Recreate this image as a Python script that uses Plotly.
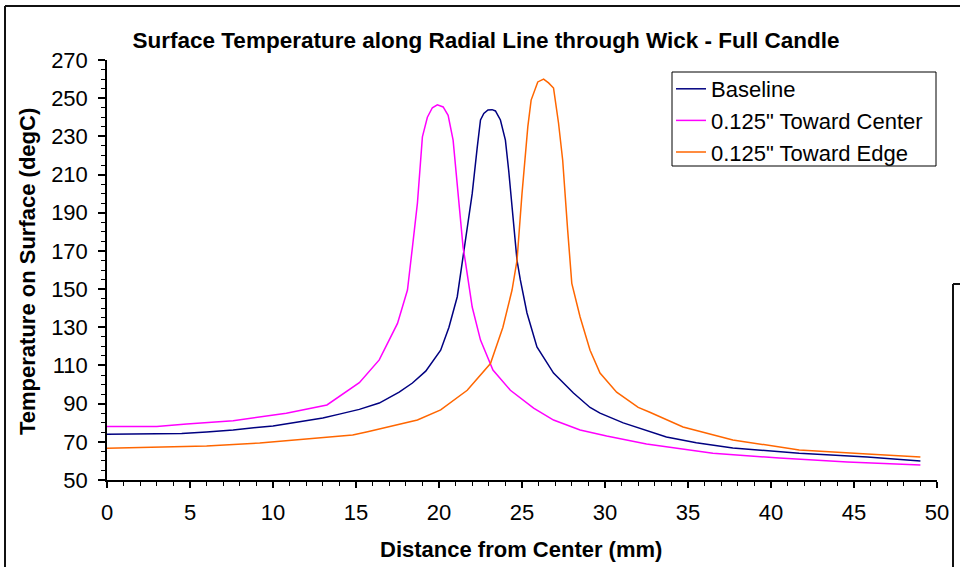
import plotly.graph_objects as go

# ---- data ----
baseline_x = [0, 2, 4.5, 6, 7.6, 9, 10, 11.6, 13, 14, 15.2, 16.4, 17.6, 18.4, 19.2, 20.1, 20.6,
              21.1, 21.4, 21.7, 22.0, 22.3, 22.5, 22.7, 22.95, 23.2, 23.4, 23.7, 24.0, 24.2, 24.5,
              24.7, 24.9, 25.3, 25.9, 26.9, 28.1, 29.1, 29.7, 31.1, 33.7, 35.5, 37.7, 41.7, 45.8, 49.0]
baseline_t = [74, 74, 74.3, 75.2, 76.2, 77.5, 78.3, 80.5, 82.5, 84.5, 87, 90.3, 96, 100.8, 107, 118, 130,
              146, 164, 181, 200, 224, 238.6, 242, 243.8, 244, 243.3, 238.6, 228, 212, 182.5,
              165, 154.8, 137.5, 119.7, 106, 95.6, 88, 85, 79.9, 72.5, 69.5, 66.8, 64, 62, 60]

center_x = [0, 3, 4.8, 7.6, 10.8, 13.25, 15.2, 16.4, 17.5, 18.1, 18.4, 18.7, 19.0, 19.3, 19.6, 19.9,
            20.25, 20.55, 20.85, 21.0, 21.15, 21.45, 21.6, 22.0, 22.5, 23.25, 24.3, 25.7, 26.9, 28.5,
            30.1, 32.5, 36.5, 40.5, 44.6, 49.0]
center_t = [78, 78, 79.3, 81, 85, 89.3, 101, 112.9, 132, 149.5, 172, 195, 229.7, 240, 245, 246.5,
            245.4, 241, 228, 214, 196.7, 172, 163.7, 140.6, 123.3, 107.6, 97, 87.7, 81.4, 76.2,
            73, 68.9, 64, 61.5, 59.4, 57.9]

edge_x = [0, 2.2, 6.0, 9.2, 12.6, 14.8, 15.7, 17.65, 18.7, 20.1, 21.7, 23.1, 23.85, 24.4, 24.7, 25.0,
          25.35, 25.55, 25.95, 26.3, 26.6, 26.9, 27.0, 27.2, 27.45, 27.6, 27.75, 28.0, 28.5, 29.1,
          29.7, 30.7, 31.1, 32.0, 32.7, 34.7, 37.7, 41.7, 45.8, 49.0]
edge_t = [66.6, 67, 67.8, 69.4, 72, 73.6, 75.3, 79.3, 81.4, 86.7, 97, 111, 130, 149.5, 165, 200,
          235, 249, 258.5, 260, 258, 255.3, 249, 237, 217.6, 196.7, 181, 153, 135.4, 118,
          106, 96, 93.5, 88, 85.5, 77.8, 71, 65.7, 63.6, 62]

series_names = ["Baseline", "0.125\" Toward Center", "0.125\" Toward Edge"]
series_colors = ["#000080", "#FF00FF", "#FF6600"]

title_text = "Surface Temperature along Radial Line through Wick - Full Candle"
x_title = "Distance from Center (mm)"
y_title = "Temperature on Surface (degC)"

FONT = "Liberation Sans, Arial, sans-serif"
FS = 22

fig = go.Figure()
for xs, ys, name, col in zip([baseline_x, center_x, edge_x], [baseline_t, center_t, edge_t],
                             series_names, series_colors):
    fig.add_trace(go.Scatter(x=xs, y=ys, mode="lines", name=name,
                             line=dict(color=col, width=1.5)))

W, H = 960, 567
L, R, T, B = 107, 23, 60, 87
pw, ph = W - L - R, H - T - B

def px(xp):
    return (xp - L) / pw

def py(yp):
    return (H - B - yp) / ph

fig.update_layout(
    width=W, height=H,
    margin=dict(l=L, r=R, t=T, b=B, pad=0),
    paper_bgcolor="white", plot_bgcolor="white",
    font=dict(family=FONT, color="black", size=FS),
    title=dict(text="<b>" + title_text + "</b>", x=486 / W, xanchor="center",
               y=1 - 40 / H, yanchor="middle", yref="container",
               font=dict(family=FONT, size=22.5, color="black")),
    showlegend=True,
    legend=dict(x=px(671), y=py(68), xanchor="left", yanchor="top",
                borderwidth=0, bgcolor="rgba(0,0,0,0)",
                font=dict(family=FONT, size=FS, color="black"),
                itemwidth=30, tracegroupgap=0),
)

fig.update_xaxes(range=[0, 50], dtick=5, tick0=0, showgrid=False, zeroline=False,
                 showline=True, linecolor="black", linewidth=1.5,
                 ticks="outside", ticklen=6, tickwidth=1.5, tickcolor="black",
                 ticklabelstandoff=6,
                 tickfont=dict(family=FONT, size=FS, color="black"),
                 minor=dict(dtick=1, tick0=0, ticks="outside", ticklen=4, tickwidth=1,
                            tickcolor="black", showgrid=False))
fig.update_yaxes(range=[50, 270], dtick=20, tick0=50, showgrid=False, zeroline=False,
                 showline=True, linecolor="black", linewidth=1.5,
                 ticks="outside", ticklen=7, tickwidth=1.5, tickcolor="black",
                 ticklabelstandoff=6,
                 tickfont=dict(family=FONT, size=FS, color="black"),
                 minor=dict(dtick=5, tick0=50, ticks="outside", ticklen=4, tickwidth=1,
                            tickcolor="black", showgrid=False))

fig.add_annotation(text="<b>" + x_title + "</b>", xref="paper", yref="paper",
                   x=px(521), y=py(549), xanchor="center", yanchor="middle",
                   showarrow=False, font=dict(family=FONT, size=FS, color="black"))
fig.add_annotation(text="<b>" + y_title + "</b>", xref="paper", yref="paper",
                   x=px(27), y=py(272), xanchor="center", yanchor="middle",
                   textangle=-90, showarrow=False,
                   font=dict(family=FONT, size=FS, color="black"))

# legend frame
fig.add_shape(type="rect", xref="paper", yref="paper", x0=px(672), x1=px(936), y0=py(72), y1=py(166),
              line=dict(color="black", width=1), fillcolor="white", layer="below")

border = dict(color="#111111", width=2)
fig.add_shape(type="line", xref="paper", yref="paper", x0=px(5), x1=px(5), y0=py(6), y1=py(575), line=border)
fig.add_shape(type="line", xref="paper", yref="paper", x0=px(5), x1=px(970), y0=py(6), y1=py(6), line=border)
fig.add_shape(type="line", xref="paper", yref="paper", x0=px(953), x1=px(953), y0=py(284), y1=py(575), line=border)
fig.add_shape(type="line", xref="paper", yref="paper", x0=px(953), x1=px(970), y0=py(284), y1=py(284), line=border)

fig.write_html("out.html", config={"displayModeBar": False},
               post_script="document.body.style.margin='0';document.body.style.overflow='hidden';")
